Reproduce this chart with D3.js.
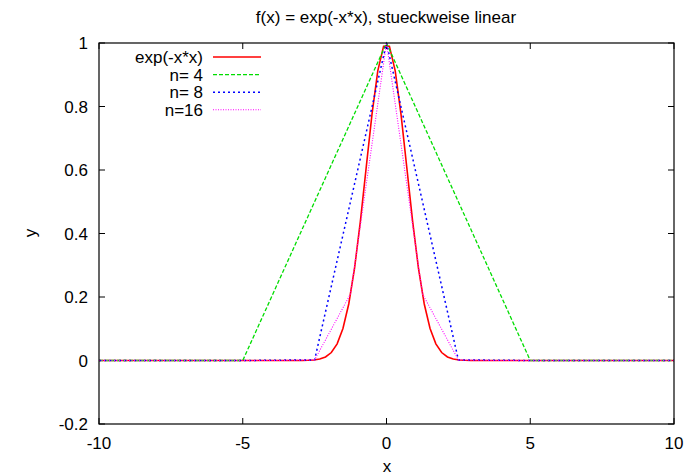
<!DOCTYPE html>
<html>
<head>
<meta charset="utf-8">
<script src="https://cdn.jsdelivr.net/npm/d3@7"></script>
<style>
  body { margin: 0; background: #fff; }
  text { font-family: "Liberation Sans", Arial, Helvetica, sans-serif; fill: #000; }
</style>
</head>
<body>
<div id="chart"></div>
<script>
// exp(-x*x), sampled like gnuplot (100 samples over [-10,10]); outside |x|>3.2 it is ~0
const expX = [-10, -3.131, -2.929, -2.727, -2.525, -2.323, -2.121, -1.919, -1.717, -1.515, -1.313, -1.111, -0.909, -0.707, -0.505, -0.303, -0.101,
              0.101, 0.303, 0.505, 0.707, 0.909, 1.111, 1.313, 1.515, 1.717, 1.919, 2.121, 2.323, 2.525, 2.727, 2.929, 3.131, 10]
const expY = [0, 0.0000, 0.0002, 0.0006, 0.0017, 0.0045, 0.0111, 0.0251, 0.0524, 0.1007, 0.178, 0.291, 0.438, 0.607, 0.775, 0.912, 0.990,
              0.990, 0.912, 0.775, 0.607, 0.438, 0.291, 0.178, 0.1007, 0.0524, 0.0251, 0.0111, 0.0045, 0.0017, 0.0006, 0.0002, 0.0000, 0]

const n4X = [-10, -5, 0, 5, 10]
const n4Y = [0, 0, 1, 0, 0]

const n8X = [-10, -7.5, -5, -2.5, 0, 2.5, 5, 7.5, 10]
const n8Y = [0, 0, 0, 0.002, 1, 0.002, 0, 0, 0]

const n16X = [-10, -8.75, -7.5, -6.25, -5, -3.75, -2.5, -1.25, 0, 1.25, 2.5, 3.75, 5, 6.25, 7.5, 8.75, 10]
const n16Y = [0, 0, 0, 0, 0, 0, 0.002, 0.21, 1, 0.21, 0.002, 0, 0, 0, 0, 0, 0]

const xTicks = [-10, -5, 0, 5, 10]
const yTicks = [-0.2, 0, 0.2, 0.4, 0.6, 0.8, 1]

const seriesNames = ["exp(-x*x)", "n= 4", "n= 8", "n=16"]

const width = 693, height = 476
const margin = {top: 43, right: 19, bottom: 52, left: 99}
const fs = "17px"

const svg = d3.select("#chart").append("svg")
    .attr("width", width)
    .attr("height", height)

const x = d3.scaleLinear().domain([-10, 10]).range([margin.left, width - margin.right])
const y = d3.scaleLinear().domain([-0.2, 1]).range([height - margin.bottom, margin.top])

const styles = [
    {color: "#ff0000", dash: null, w: 1.6},
    {color: "#00dd00", dash: "4,2", w: 1.3},
    {color: "#0000ff", dash: "2,3", w: 1.5},
    {color: "#ff00ff", dash: "1,1.5", w: 1.1}
]

const series = [
    d3.zip(expX, expY),
    d3.zip(n4X, n4Y),
    d3.zip(n8X, n8Y),
    d3.zip(n16X, n16Y)
]

// ticks (inside, mirrored)
const tl = 6
const ax = svg.append("g").attr("stroke", "#000").attr("stroke-width", 1)
xTicks.forEach(t => {
    ax.append("line").attr("x1", x(t)).attr("x2", x(t)).attr("y1", y(-0.2)).attr("y2", y(-0.2) - tl)
    ax.append("line").attr("x1", x(t)).attr("x2", x(t)).attr("y1", y(1)).attr("y2", y(1) + tl)
})
yTicks.forEach(t => {
    ax.append("line").attr("x1", x(-10)).attr("x2", x(-10) + tl).attr("y1", y(t)).attr("y2", y(t))
    ax.append("line").attr("x1", x(10)).attr("x2", x(10) - tl).attr("y1", y(t)).attr("y2", y(t))
})

svg.append("g").selectAll("text")
    .data(xTicks).join("text")
    .attr("x", d => x(d))
    .attr("y", 449)
    .attr("text-anchor", "middle")
    .style("font-size", fs)
    .text(d => d)

svg.append("g").selectAll("text")
    .data(yTicks).join("text")
    .attr("x", 88)
    .attr("y", d => y(d) + 6)
    .attr("text-anchor", "end")
    .style("font-size", fs)
    .text(d => d)

const line = d3.line().x(d => x(d[0])).y(d => y(d[1]))

svg.append("g").selectAll("path")
    .data(series).join("path")
    .attr("d", line)
    .attr("fill", "none")
    .attr("stroke", (d, i) => styles[i].color)
    .attr("stroke-width", (d, i) => styles[i].w)
    .attr("stroke-dasharray", (d, i) => styles[i].dash)

// border
svg.append("rect")
    .attr("x", x(-10)).attr("y", y(1))
    .attr("width", x(10) - x(-10)).attr("height", y(-0.2) - y(1))
    .attr("fill", "none").attr("stroke", "#000").attr("stroke-width", 1.2)

// legend
const legend = svg.append("g")
seriesNames.forEach((name, i) => {
    const ly = 57 + i * 17.6
    legend.append("text")
        .attr("x", 203).attr("y", ly + 6)
        .attr("text-anchor", "end")
        .style("font-size", fs)
        .text(name)
    legend.append("line")
        .attr("x1", 213).attr("x2", 261)
        .attr("y1", ly).attr("y2", ly)
        .attr("stroke", styles[i].color)
        .attr("stroke-width", styles[i].w)
        .attr("stroke-dasharray", styles[i].dash)
})

svg.append("text")
    .attr("x", 386).attr("y", 23)
    .attr("text-anchor", "middle")
    .style("font-size", fs)
    .text("f(x) = exp(-x*x), stueckweise linear")

svg.append("text")
    .attr("x", 387).attr("y", 472)
    .attr("text-anchor", "middle")
    .style("font-size", fs)
    .text("x")

svg.append("text")
    .attr("transform", "translate(36,233) rotate(-90)")
    .attr("text-anchor", "middle")
    .style("font-size", fs)
    .text("y")
</script>
</body>
</html>
